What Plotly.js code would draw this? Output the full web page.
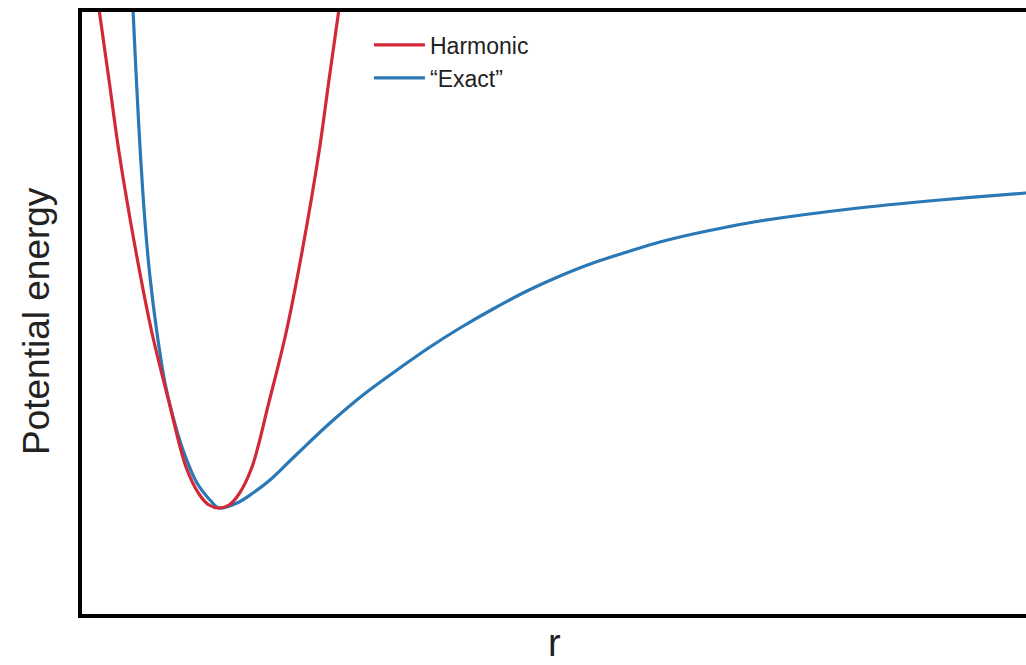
<!DOCTYPE html>
<html>
<head>
<meta charset="utf-8">
<script src="https://cdn.plot.ly/plotly-3.0.1.min.js"></script>
<style>html,body{margin:0;padding:0;background:#fff;}#chart{width:1026px;height:665px;}</style>
</head>
<body>
<div id="chart"></div>
<script>
// Harmonic approximation
var harmonicR = [0.95, 0.99, 1.09, 1.19, 1.36, 1.52, 1.69, 1.86, 1.99, 2.09, 2.19, 2.29, 2.39, 2.52, 2.69, 2.86, 3.02, 3.19, 3.29, 3.39, 3.43];
var harmonicE = [6.37, 6.08, 5.37, 4.65, 3.65, 2.84, 2.15, 1.50, 1.23, 1.12, 1.09, 1.12, 1.23, 1.50, 2.15, 2.84, 3.65, 4.65, 5.37, 6.08, 6.37];

// "Exact" potential
var exactR = [1.32, 1.33, 1.36, 1.40, 1.45, 1.50, 1.57, 1.65, 1.73, 1.83, 1.97, 2.10, 2.19, 2.37, 2.53, 2.70, 2.97, 3.30, 3.63, 3.97, 4.30, 4.60, 4.93, 5.27, 5.60, 5.93, 6.27, 6.60, 6.93, 7.27, 7.60, 8.50, 9.40, 10.26, 10.40];
var exactE = [6.30, 6.08, 5.45, 4.70, 3.95, 3.40, 2.84, 2.34, 2.00, 1.67, 1.34, 1.17, 1.09, 1.14, 1.24, 1.37, 1.63, 1.94, 2.22, 2.47, 2.70, 2.89, 3.08, 3.26, 3.41, 3.54, 3.65, 3.75, 3.83, 3.90, 3.96, 4.08, 4.17, 4.24, 4.25];

var seriesNames = ['Harmonic', '\u201CExact\u201D'];
var xTitle = 'r';
var yTitle = 'Potential energy';

var traces = [
  {x: exactR, y: exactE, mode: 'lines', name: seriesNames[1], legendrank: 2,
   line: {color: '#2a78b5', width: 3.2, shape: 'spline', smoothing: 1}},
  {x: harmonicR, y: harmonicE, mode: 'lines', name: seriesNames[0], legendrank: 1,
   line: {color: '#d12a36', width: 3.2, shape: 'spline', smoothing: 1}}
];

var layout = {
  width: 1026, height: 665,
  margin: {l: 82, r: 0, t: 12, b: 51},
  paper_bgcolor: '#fff', plot_bgcolor: '#fff',
  font: {family: 'Liberation Sans, Arial, sans-serif', color: '#222'},
  showlegend: true,
  legend: {x: 0.304, y: 0.981, xanchor: 'left', yanchor: 'top', traceorder: 'normal',
           bgcolor: 'rgba(0,0,0,0)', borderwidth: 0, itemwidth: 51,
           font: {size: 23, color: '#222'}},
  xaxis: {range: [0.82, 10.26], showgrid: false, zeroline: false,
          showticklabels: false, ticks: '', showline: true, mirror: true,
          linecolor: '#000', linewidth: 4, fixedrange: true},
  yaxis: {range: [0.03, 6.05], showgrid: false, zeroline: false,
          showticklabels: false, ticks: '', showline: true, mirror: false,
          linecolor: '#000', linewidth: 4, fixedrange: true},
  annotations: [
    {text: xTitle, xref: 'paper', yref: 'paper', x: 0.5, y: -0.0845,
     xanchor: 'center', yanchor: 'bottom', borderpad: 0, showarrow: false,
     font: {size: 38, color: '#222'}},
    {text: yTitle, xref: 'paper', yref: 'paper', x: -0.0487, y: 0.4867,
     xanchor: 'center', yanchor: 'middle', textangle: -90, showarrow: false,
     font: {size: 37, color: '#222'}}
  ]
};

Plotly.newPlot('chart', traces, layout, {displayModeBar: false, staticPlot: true});
</script>
</body>
</html>
